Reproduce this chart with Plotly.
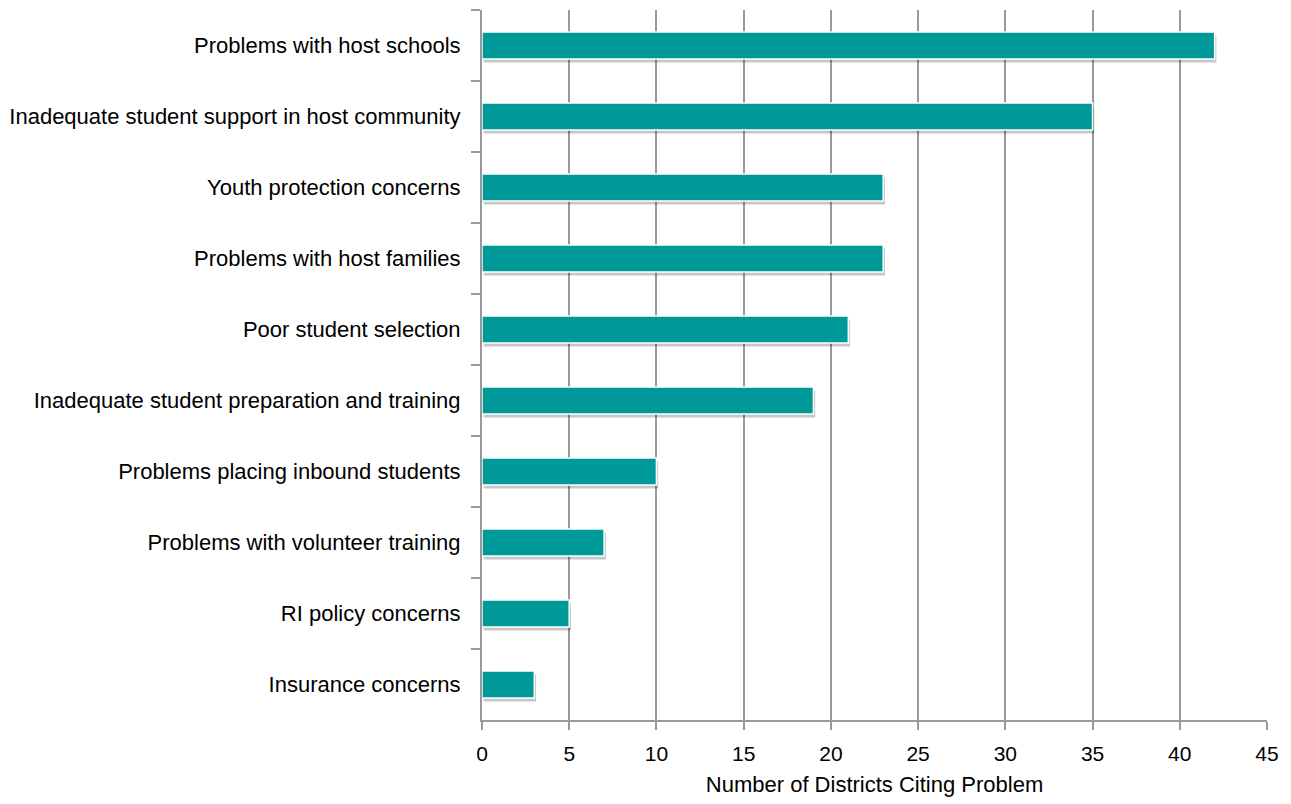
import plotly.graph_objects as go

categories = [
    "Problems with host schools",
    "Inadequate student support in host community",
    "Youth protection concerns",
    "Problems with host families",
    "Poor student selection",
    "Inadequate student preparation and training",
    "Problems placing inbound students",
    "Problems with volunteer training",
    "RI policy concerns",
    "Insurance concerns",
]
districts = [42, 35, 23, 23, 21, 19, 10, 7, 5, 3]
x_ticks = [0, 5, 10, 15, 20, 25, 30, 35, 40, 45]

FONT = "Arial Narrow, Liberation Sans Narrow, Liberation Sans, Arial, sans-serif"
BAR_W = 0.38

fig = go.Figure()

# soft drop shadow under each bar
fig.add_trace(go.Bar(
    y=categories, x=districts, orientation="h",
    width=BAR_W, offset=-BAR_W / 2 + 0.05, base=0.1,
    marker=dict(color="rgba(0,0,0,0.22)", line=dict(width=0)),
    hoverinfo="skip", showlegend=False,
))

# main bars
fig.add_trace(go.Bar(
    y=categories, x=districts, orientation="h",
    width=BAR_W, offset=-BAR_W / 2,
    marker=dict(color="#009999", line=dict(color="white", width=1.5)),
    showlegend=False,
))

fig.update_layout(
    barmode="overlay",
    width=1291, height=804,
    margin=dict(l=482, r=24, t=10, b=84),
    plot_bgcolor="white", paper_bgcolor="white",
    font=dict(family=FONT, size=22, color="black"),
)

fig.update_xaxes(
    range=[0, 45], tickvals=x_ticks,
    showgrid=True, gridcolor="#999999", gridwidth=1.5,
    showline=True, linecolor="#999999", linewidth=2,
    ticks="outside", ticklen=8, tickcolor="#999999", tickwidth=2,
    ticklabelstandoff=6,
    zeroline=False,
    title=dict(text="Number of Districts Citing Problem", standoff=12,
               font=dict(family=FONT, size=22, color="black")),
    tickfont=dict(family=FONT, size=21, color="black"),
)

fig.update_yaxes(
    autorange="reversed",
    showgrid=False,
    showline=True, linecolor="#999999", linewidth=2,
    ticks="outside", ticklen=9, tickcolor="#999999", tickwidth=2,
    tickson="boundaries", ticklabelstandoff=15,
    tickfont=dict(family=FONT, size=22, color="black"),
)

fig.write_html("out.html")
